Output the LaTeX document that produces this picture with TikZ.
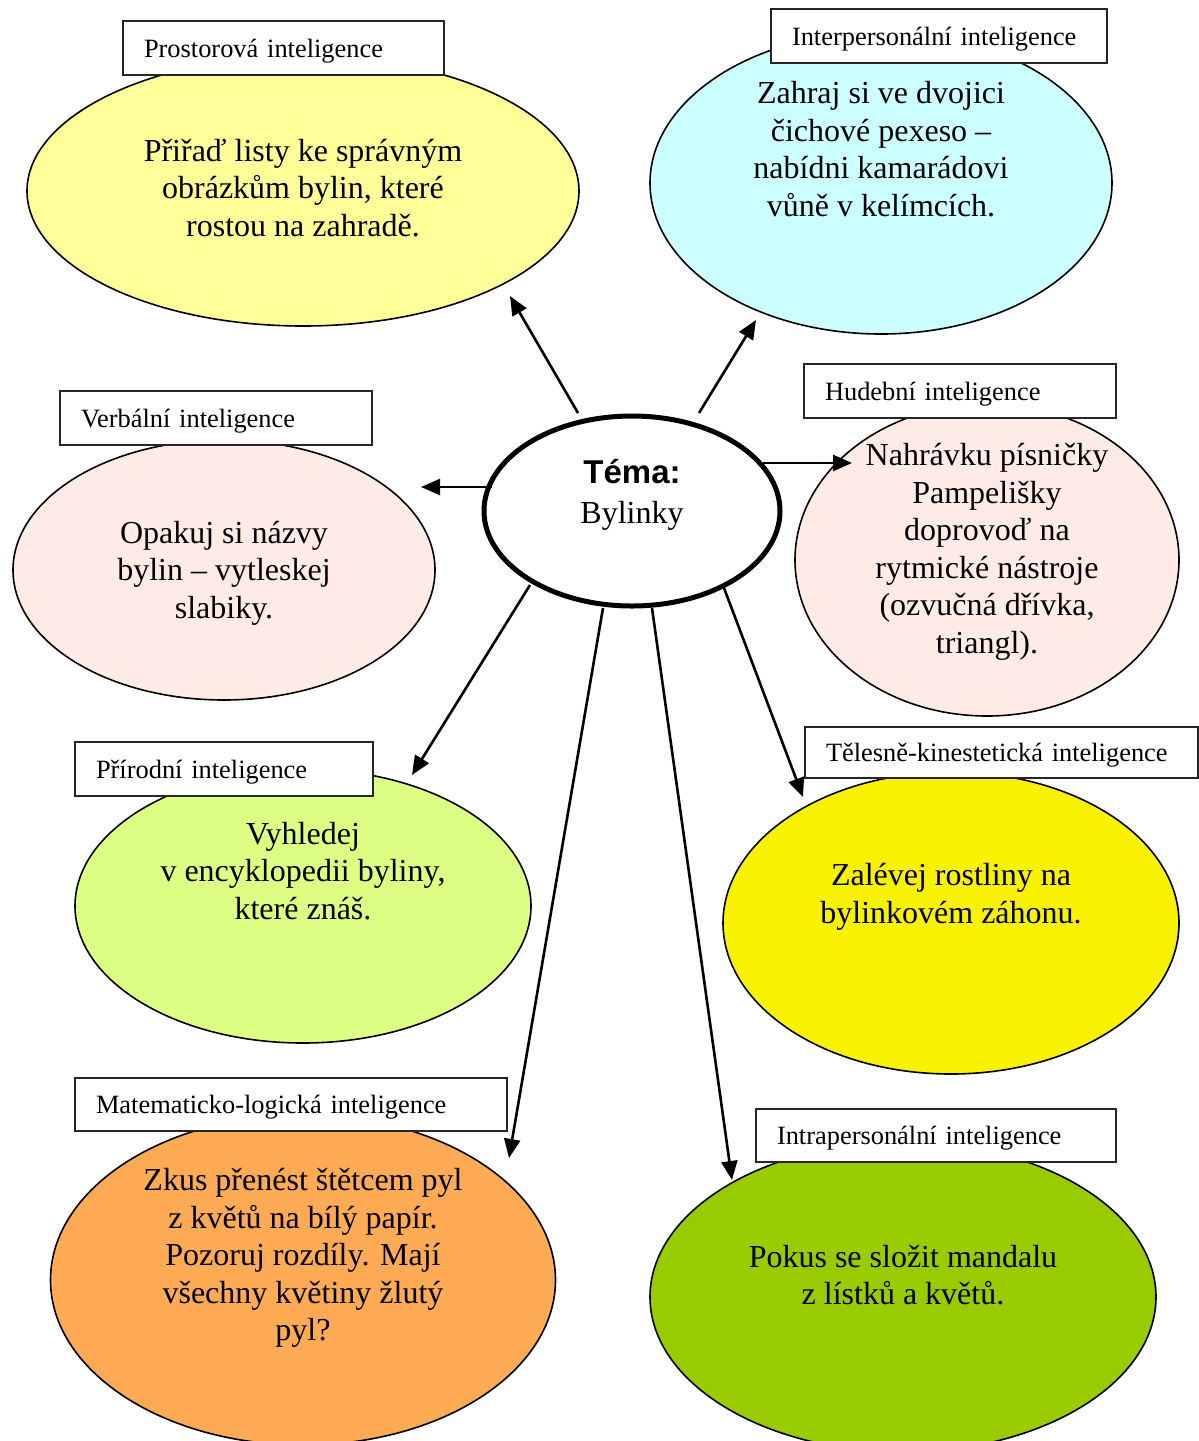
\documentclass[tikz,border=0pt]{standalone}
\usepackage{fontspec}
\setmainfont{Liberation Serif}
\newfontfamily\arialfont{Liberation Sans}
\usetikzlibrary{shapes.geometric,arrows.meta}
\definecolor{cyel}{HTML}{FFFF99}
\definecolor{ccyan}{HTML}{CCFFFF}
\definecolor{cpink}{HTML}{FFEBE5}
\definecolor{cgreenl}{HTML}{DDFF84}
\definecolor{cyel2}{HTML}{F8F200}
\definecolor{corange}{HTML}{FFAA55}
\definecolor{cgreen}{HTML}{99CC00}
\begin{document}
\begin{tikzpicture}[x=1pt,y=-1pt,
  bub/.style={ellipse, draw=black, line width=1.6pt, inner sep=0pt, outer sep=0pt},
  labbox/.style={rectangle, draw=black!85, line width=1.4pt, fill=white, inner ysep=0pt, inner xsep=21pt, align=left, text depth=0pt, font=\fontsize{26.4}{30}\selectfont},
  txt/.style={align=center, inner sep=0pt, font=\fontsize{32}{37.5}\selectfont},
  arr/.style={line width=2.6pt, -{Triangle[length=19pt,width=16pt]}}
]
\useasboundingbox (0,0) rectangle (1199,1441);
\fill[white] (0,0) rectangle (1199,1441);

% ellipses
\node[bub, fill=cyel, minimum width=552pt, minimum height=270pt] (e1) at (303,191) {};
\node[bub, fill=ccyan, minimum width=462pt, minimum height=302pt] (e2) at (881,183) {};
\node[bub, fill=cpink, minimum width=422pt, minimum height=260pt] (e3) at (224,570) {};
\node[bub, fill=cpink, minimum width=384pt, minimum height=312pt] (e4) at (987,560) {};
\node[bub, fill=cgreenl, minimum width=456pt, minimum height=274pt] (e5) at (303,906) {};
\node[bub, fill=cyel2, minimum width=456pt, minimum height=302pt] (e6) at (951,923) {};
\node[bub, fill=corange, minimum width=505pt, minimum height=330pt] (e7) at (303,1280) {};
\node[bub, fill=cgreen, minimum width=506pt, minimum height=310pt] (e8) at (903,1297) {};

% label boxes
\node[labbox, text width=279pt, minimum height=54pt] (l1) at (283.5,48) {Prostorová inteligence};
\node[labbox, text width=294pt, minimum height=54pt] (l2) at (939,36) {Interpersonální inteligence};
\node[labbox, text width=270pt, minimum height=54pt] (l3) at (216,418) {Verbální inteligence};
\node[labbox, text width=270pt, minimum height=54pt] (l4) at (960,391) {Hudební inteligence};
\node[labbox, text width=256pt, minimum height=54pt] (l5) at (224,769) {Přírodní inteligence};
\node[labbox, text width=351pt, minimum height=51pt] (l6) at (1001.5,752.5) {Tělesně-kinestetická inteligence};
\node[labbox, text width=390pt, minimum height=53pt] (l7) at (291,1104.5) {Matematicko-logická inteligence};
\node[labbox, text width=318pt, minimum height=53pt] (l8) at (936,1135.5) {Intrapersonální inteligence};

% texts
\node[txt] (t1) at (303,188) {Přiřaď listy ke správným\\obrázkům bylin, které\\rostou na zahradě.};
\node[txt] (t2) at (881,149) {Zahraj si ve dvojici\\čichové pexeso –\\nabídni kamarádovi\\vůně v kelímcích.};
\node[txt] (t3) at (224,573) {Opakuj si názvy\\bylin – vytleskej\\slabiky.};
\node[txt] (t4) at (987,552) {Nahrávku písničky\\Pampelišky\\doprovoď na\\rytmické nástroje\\(ozvučná dřívka,\\triangl).};
\node[txt] (t5) at (303,871) {Vyhledej\\v encyklopedii byliny,\\které znáš.};
\node[txt] (t6) at (951,897) {Zalévej rostliny na\\bylinkovém záhonu.};
\node[txt] (t7) at (303,1258) {Zkus přenést štětcem pyl\\z květů na bílý papír.\\Pozoruj rozdíly. Mají\\všechny květiny žlutý\\pyl?};
\node[txt] (t8) at (903,1275) {Pokus se složit mandalu\\z lístků a květů.};

% centre
\node[ellipse, draw=black, line width=5pt, fill=white, inner sep=0pt, minimum width=296pt, minimum height=190pt] (c) at (632,511) {};
\node[align=center, inner sep=0pt, font=\fontsize{32}{40}\selectfont] (ct) at (632,495) {{\arialfont\bfseries\fontsize{33}{40}\selectfont Téma:}\\Bylinky};

% arrow coordinates
\coordinate (s1) at (578,413); \coordinate (p1) at (510,296);
\coordinate (s2) at (699,413); \coordinate (p2) at (756,320);
\coordinate (s3) at (492,487); \coordinate (p3) at (421,487);
\coordinate (s4) at (763,463); \coordinate (p4) at (852,463);
\coordinate (s5) at (530,585); \coordinate (p5) at (412,775);
\coordinate (s6) at (724,588); \coordinate (p6) at (803,797);
\coordinate (s7) at (603,608); \coordinate (p7) at (509,1158);
\coordinate (s8) at (652,608); \coordinate (p8) at (732,1180);

\draw[arr] (s1) -- (p1);
\draw[arr] (s2) -- (p2);
\draw[arr] (s3) -- (p3);
\draw[arr] (s4) -- (p4);
\draw[arr] (s5) -- (p5);
\draw[arr] (s6) -- (p6);
\draw[arr] (s7) -- (p7);
\draw[arr] (s8) -- (p8);
\end{tikzpicture}
\end{document}
